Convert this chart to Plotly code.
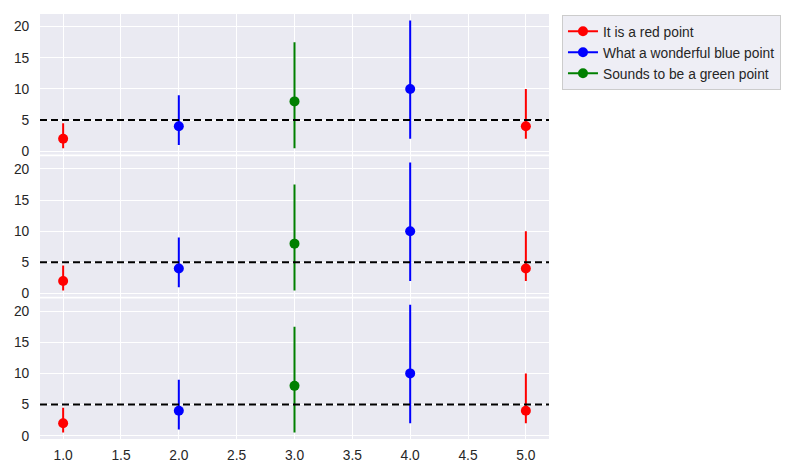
import plotly.graph_objects as go
from plotly.subplots import make_subplots

# ---- data ----
x_values = [1, 2, 3, 4, 5]
y_values = [2, 4, 8, 10, 4]
err_lower = [1.5, 3, 7.5, 8, 2]
err_upper = [2.5, 5, 9.5, 11, 6]
point_colors = ["red", "blue", "green", "blue", "red"]
series_keys = ["red", "blue", "green"]
series_labels = ["It is a red point", "What a wonderful blue point", "Sounds to be a green point"]
series_hex = ["#FF0000", "#0000FF", "#008000"]
threshold = 5
x_tick_vals = [1.0, 1.5, 2.0, 2.5, 3.0, 3.5, 4.0, 4.5, 5.0]
x_tick_text = ["1.0", "1.5", "2.0", "2.5", "3.0", "3.5", "4.0", "4.5", "5.0"]
y_tick_vals = [0, 5, 10, 15, 20]
n_panels = 3

# auto-range like matplotlib (5% margins)
xmin, xmax = min(x_values), max(x_values)
xpad = (xmax - xmin) * 0.05
lo = min(y - e for y, e in zip(y_values, err_lower))
hi = max(y + e for y, e in zip(y_values, err_upper))
ypad = (hi - lo) * 0.05

fig = make_subplots(rows=n_panels, cols=1, shared_xaxes=True, vertical_spacing=0.004)

for r in range(1, n_panels + 1):
    for key, label, col in zip(series_keys, series_labels, series_hex):
        xs, ys, ep, em = [], [], [], []
        for xv, yv, lw, up, c in zip(x_values, y_values, err_lower, err_upper, point_colors):
            if c != key:
                continue
            if xs:
                xs.append(None); ys.append(None); ep.append(0); em.append(0)
            xs.append(xv); ys.append(yv); ep.append(up); em.append(lw)
        fig.add_trace(go.Scatter(
            x=xs, y=ys, mode="lines+markers", name=label,
            legendgroup=key, showlegend=(r == 1),
            line=dict(color=col, width=2), connectgaps=False,
            marker=dict(color=col, size=10),
            error_y=dict(type="data", symmetric=False, array=ep, arrayminus=em,
                         color=col, thickness=2, width=0),
        ), row=r, col=1)
    fig.add_hline(y=threshold, row=r, col=1,
                  line=dict(color="black", dash="7px,4px", width=2))

FONT = "Liberation Sans, Arial, sans-serif"
axis_common = dict(showgrid=True, gridcolor="white", gridwidth=1.2, zeroline=False,
                   showline=False, ticks="outside", tickcolor="rgba(0,0,0,0)",
                   automargin=False,
                   tickfont=dict(family=FONT, size=13.8, color="#262626"))

for r in range(1, n_panels + 1):
    fig.update_xaxes(range=[xmin - xpad, xmax + xpad], tickvals=x_tick_vals, ticklen=3,
                     ticktext=x_tick_text, showticklabels=(r == n_panels), **axis_common, row=r, col=1)
    fig.update_yaxes(range=[lo - ypad, hi + ypad], tickvals=y_tick_vals, ticklen=7,
                     **axis_common, row=r, col=1)

# page body has an 8px margin: size the figure to fit inside the window
fig.update_layout(
    width=796, height=456,
    margin=dict(l=32, r=255, t=6, b=25),
    paper_bgcolor="white", plot_bgcolor="#EAEAF2",
    font=dict(family=FONT, size=13.8, color="#262626"),
    legend=dict(x=1.0255, y=0.998, xanchor="left", yanchor="top",
                bgcolor="rgba(234,234,242,0.8)", bordercolor="#CCCCCC", borderwidth=1,
                font=dict(family=FONT, size=13.8, color="#262626"), tracegroupgap=0),
)

fig.write_html("out.html")
